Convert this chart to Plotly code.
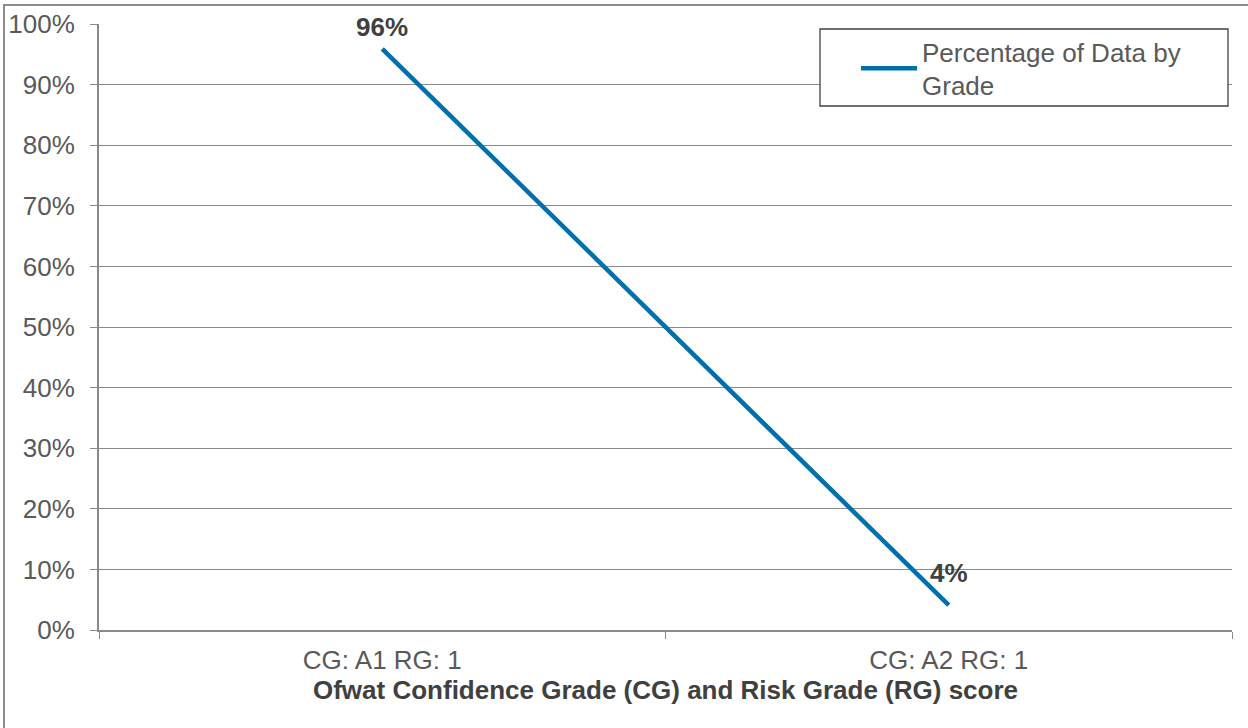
import plotly.graph_objects as go

categories = ["CG: A1 RG: 1", "CG: A2 RG: 1"]
values = [95.9, 4.1]
labels = ["96%", "4%"]
series_name = "Percentage of Data by<br>Grade"
y_ticks = list(range(0, 101, 10))

W, H = 1248, 728
L, T = 99, 24
R = W - 1232
B = H - 630
pw, ph = W - L - R, H - T - B

def px_x(p):
    return (p - L) / pw

def px_y(p):
    return (H - B - p) / ph

FONT = "Liberation Sans, Arial, sans-serif"
TXT = "#595959"
DARK = "#404040"
GRID = "#8a8a8a"
BLUE = "#0070ad"

fig = go.Figure()
fig.add_trace(go.Scatter(
    x=categories, y=values, mode="lines", name=series_name,
    line=dict(color=BLUE, width=4.5),
    showlegend=True,
))

for c, v, t in zip(categories, values, labels):
    fig.add_annotation(x=c, y=v, text="<b>%s</b>" % t, showarrow=False,
                       yshift=32 if v < 50 else 22,
                       font=dict(family=FONT, size=26, color=DARK))

# chart outer border
fig.add_shape(type="rect", xref="paper", yref="paper",
              x0=px_x(4), x1=px_x(1256), y0=px_y(740), y1=px_y(5),
              line=dict(color="#8c8c8c", width=2), fillcolor="rgba(0,0,0,0)", layer="below")
# legend box
fig.add_shape(type="rect", xref="paper", yref="paper",
              x0=px_x(820), x1=px_x(1228), y0=px_y(106), y1=px_y(29),
              line=dict(color=DARK, width=1.3), fillcolor="white", layer="above")

fig.update_layout(
    width=W, height=H,
    margin=dict(l=L, r=R, t=T, b=B, autoexpand=False),
    paper_bgcolor="white", plot_bgcolor="white",
    font=dict(family=FONT, size=26, color=TXT),
    showlegend=True,
    legend=dict(x=px_x(856), y=px_y(28), xanchor="left", yanchor="top",
                bgcolor="rgba(0,0,0,0)", borderwidth=0,
                font=dict(family=FONT, size=26, color=TXT),
                itemwidth=56, tracegroupgap=0),
    xaxis=dict(
        type="category", range=[-0.5, 1.5], automargin=False,
        showgrid=False, showline=True, linecolor=GRID, linewidth=2,
        ticks="outside", tickson="boundaries", ticklen=7, tickcolor=GRID, tickwidth=1,
        tickfont=dict(family=FONT, size=26, color=TXT),
        ticklabelstandoff=6,
        title=dict(text="<b>Ofwat Confidence Grade (CG) and Risk Grade (RG) score</b>",
                   font=dict(family=FONT, size=26, color=DARK), standoff=6),
        fixedrange=True,
    ),
    yaxis=dict(
        range=[0, 100], tickvals=y_ticks, ticktext=["%d%%" % v for v in y_ticks],
        automargin=False,
        showgrid=True, gridcolor=GRID, gridwidth=1,
        showline=True, linecolor=GRID, linewidth=2,
        ticks="outside", ticklen=7, tickcolor=GRID,
        tickfont=dict(family=FONT, size=26, color=TXT),
        ticklabelstandoff=10,
        zeroline=False, fixedrange=True,
    ),
)

fig.write_html("out.html", config={"displayModeBar": False},
               post_script="document.body.style.margin='0';document.body.style.overflow='hidden';")
